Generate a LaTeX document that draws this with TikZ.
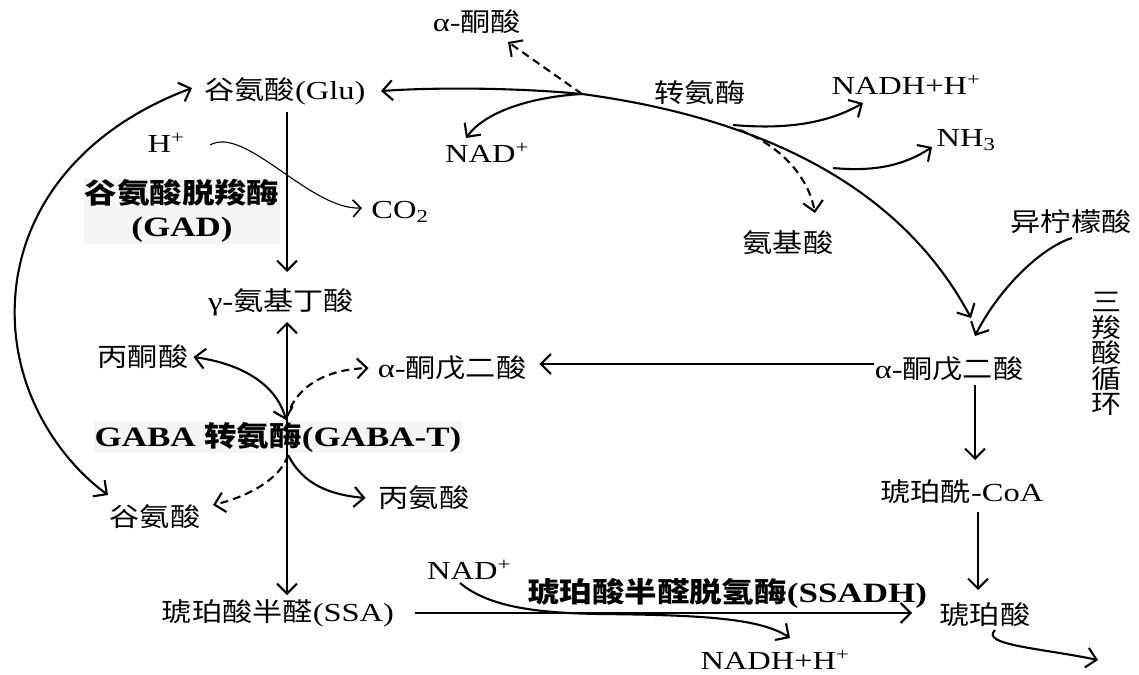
\documentclass[tikz,border=0pt]{standalone}
\usepackage{fontspec}
\setmainfont{Liberation Serif}[FakeStretch=1.25]
\newfontfamily\cjk{Noto Sans CJK SC}[FakeStretch=1.16]
\newcommand{\zh}[1]{{\cjk #1}}
\usetikzlibrary{arrows.meta}
\begin{document}
\begin{tikzpicture}[x=1pt,y=-1pt,
  font=\fontsize{26}{30}\selectfont,
  every node/.style={inner sep=1pt},
  arr/.style={line width=2.1pt,-{Straight Barb[length=10pt,width=20pt]}},
  barr/.style={line width=2.1pt,{Straight Barb[length=10pt,width=20pt]}-{Straight Barb[length=10pt,width=20pt]}},
  darr/.style={arr,dash pattern=on 8pt off 5pt},
  thinarr/.style={line width=1.1pt,-{Straight Barb[length=8pt,width=17pt,line width=1.6pt]}},
  enz/.style={font=\fontsize{28}{33}\selectfont\bfseries,fill=black!4,align=center}]
\useasboundingbox (0,0) rectangle (1139,674);
% nodes
\node (ak) at (477,22) {α-\zh{酮酸}};
\node (glu) at (285,91) {\zh{谷氨酸}(Glu)};
\node (zhuan) at (700,93) {\zh{转氨酶}};
\node (nad1) at (487,153) {NAD\textsuperscript{+}};
\node (nadh1) at (906,85) {NADH+H\textsuperscript{+}};
\node (nh3) at (966,140) {NH\textsubscript{3}};
\node (aa) at (788,243) {\zh{氨基酸}};
\node (iso) at (1071,222) {\zh{异柠檬酸}};
\node (hplus) at (166,143) {H\textsuperscript{+}};
\node (co2) at (400,212) {CO\textsubscript{2}};
\node[enz] (gad) at (182,211) {\zh{谷氨酸脱羧酶}\\(GAD)};
\node (gaba) at (281,302) {γ-\zh{氨基丁酸}};
\node (pyr) at (143,357) {\zh{丙酮酸}};
\node (akg1) at (452,368) {α-\zh{酮戊二酸}};
\node (akg2) at (949,369) {α-\zh{酮戊二酸}};
\node[enz] (gabat) at (278,437) {GABA \zh{转氨酶}(GABA-T)};
\node (glu2) at (155,517) {\zh{谷氨酸}};
\node (ala) at (424,498) {\zh{丙氨酸}};
\node (succoa) at (962,492) {\zh{琥珀酰}-CoA};
\node (ssa) at (278,613) {\zh{琥珀酸半醛}(SSA)};
\node (succ) at (985,615) {\zh{琥珀酸}};
\node (nad2) at (469,570) {NAD\textsuperscript{+}};
\node (nadh2) at (775,660) {NADH+H\textsuperscript{+}};
\node[enz,fill=none] (ssadh) at (727,593) {\zh{琥珀酸半醛脱氢酶}(SSADH)};
\node[align=center,font=\fontsize{26}{25.5}\selectfont\cjk] (tca) at (1107,354) {三\\羧\\酸\\循\\环};
% coordinates
\coordinate (m1) at (582,94);
\coordinate (b1) at (733,125);
\coordinate (b2) at (833,168);
\coordinate (b3) at (740,130);
\coordinate (t1) at (971,318);
\coordinate (tnadh1) at (863,103);
\coordinate (tnh3) at (932,147);
\coordinate (taa) at (815,213);
\coordinate (tak) at (508,42);
\coordinate (tnad1) at (466,138);
\coordinate (tglu) at (381,91);
\coordinate (siso) at (1072,238);
\coordinate (tiso) at (975,336);
\coordinate (sh) at (210,145);
\coordinate (tco2) at (362,208);
\coordinate (g1) at (287,112);
\coordinate (g2) at (287,272);
\coordinate (v1) at (287,322);
\coordinate (v2) at (287,595);
\coordinate (cx) at (286,420);
\coordinate (cx2) at (288,455);
\coordinate (lt) at (192,88);
\coordinate (lb) at (108,495);
\coordinate (lm) at (15,300);
\coordinate (k1) at (975,385);
\coordinate (k2) at (975,460);
\coordinate (s1) at (978,512);
\coordinate (s2) at (978,590);
\coordinate (so) at (995,630);
\coordinate (to) at (1098,660);
\coordinate (ls) at (415,613);
\coordinate (le) at (912,613);
\coordinate (n2s) at (460,583);
\coordinate (n2m) at (600,614);
\coordinate (n2t) at (790,638);
\coordinate (tglu2) at (213,505);
% top connectors
\draw[arr] (m1) .. controls (520,88) and (440,87) .. (tglu);
\draw[arr] (m1) .. controls (760,118) and (900,185) .. (t1);
\draw[arr] (b1) .. controls (790,130) and (830,122) .. (tnadh1);
\draw[arr] (b2) .. controls (875,172) and (905,165) .. (tnh3);
\draw[darr] (b3) .. controls (790,150) and (810,185) .. (taa);
\draw[darr] (m1) -- (tak);
\draw[arr] (m1) .. controls (530,97) and (485,112) .. (tnad1);
\draw[arr] (siso) .. controls (1040,248) and (998,290) .. (tiso);
% left
\draw[thinarr] (sh) .. controls (245,125) and (310,210) .. (tco2);
\draw[arr] (g1) -- (g2);
\draw[barr] (v1) -- (v2);
\draw[barr] ([xshift=4pt]pyr.east) .. controls (250,365) and (278,390) .. (cx);
\draw[darr] (cx) .. controls (293,392) and (318,370) .. ([xshift=-8pt]akg1.west);
\draw[darr] (cx2) .. controls (281,478) and (250,496) .. (tglu2);
\draw[arr] (cx2) .. controls (300,478) and (320,494) .. ([xshift=-12pt]ala.west);
\draw[barr] (lt) .. controls (80,130) and (20,210) .. (lm) .. controls (10,390) and (60,460) .. (lb);
% right
\draw[arr] (akg2.west |- 0,364) -- ([xshift=12pt]akg1.east |- 0,364);
\draw[arr] (k1) -- (k2);
\draw[arr] (s1) -- (s2);
\draw[arr] (so) .. controls (980,645) and (1040,648) .. (to);
% bottom
\draw[arr] (ls) -- (le);
\draw[arr] (n2s) .. controls (490,608) and (540,613) .. (n2m) .. controls (700,615) and (760,618) .. (n2t);
\end{tikzpicture}
\end{document}
